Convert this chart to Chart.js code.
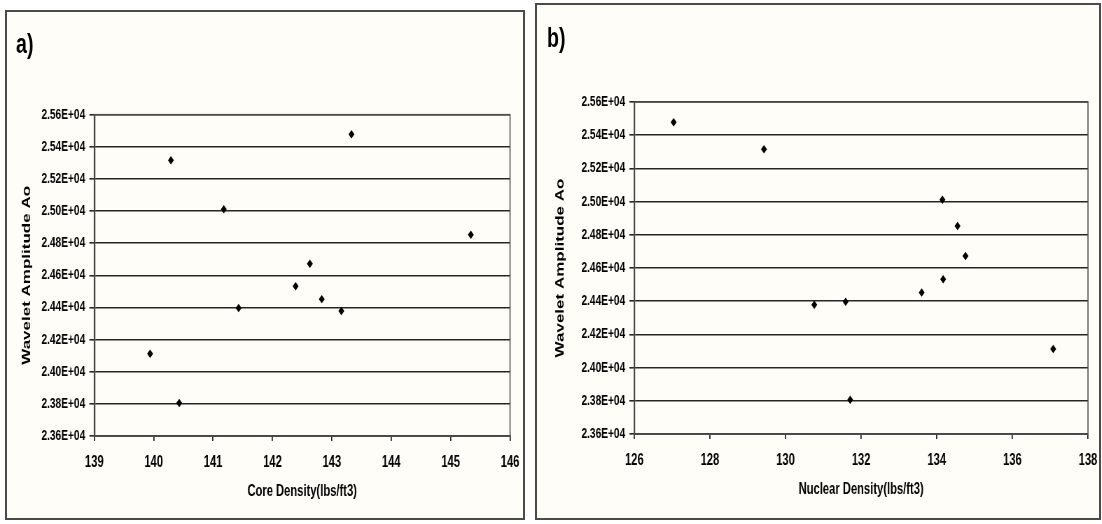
<!DOCTYPE html>
<html>
<head>
<meta charset="utf-8">
<script src="https://cdn.jsdelivr.net/npm/chart.js@4/dist/chart.umd.min.js"></script>
<style>
    body { margin: 0; background: #ffffff; width: 1102px; height: 524px; overflow: hidden; position: relative; }
    .panel { position: absolute; border: 2px solid #4a4a4a; background: #fefdf7; overflow: hidden; }
    /* the source figure is squeezed sideways, so every panel is drawn wide and squeezed */
    .panel canvas { position: absolute; left: 0; top: 0; transform: scaleX(0.7); transform-origin: 0 0; }
    .tag { position: absolute; font: bold 28px 'Liberation Sans', Arial, sans-serif; line-height: 1; color: #000;
           transform: scaleX(0.7); transform-origin: 0 0; }
</style>
</head>
<body>
<div class="panel" style="left:5px; top:10px; width:516px; height:506px;">
    <canvas id="chartA" width="737" height="506"></canvas>
</div>
<div class="panel" style="left:535px; top:3px; width:562px; height:513px;">
    <canvas id="chartB" width="803" height="513"></canvas>
</div>
<div class="tag" style="left:16px; top:30px;">a)</div>
<div class="tag" style="left:547px; top:24px;">b)</div>

<script>
// Wavelet amplitude Ao for each sample (same samples in both panels)
const amplitudeAo = [25478, 25316, 25011, 24853, 24672, 24532, 24452, 24396, 24378, 24112, 23806];
// Core density (lbs/ft3), panel a)
const coreDensity = [143.33, 140.29, 141.18, 145.34, 142.63, 142.39, 142.83, 141.43, 143.16, 139.94, 140.43];
// Nuclear density (lbs/ft3), panel b)
const nuclearDensity = [127.04, 129.43, 134.15, 134.55, 134.76, 134.17, 133.60, 131.59, 130.76, 137.08, 131.71];

// Axis ranges
const ampRange = { min: 23600, max: 25600, step: 200 };
const coreRange = { min: 139, max: 146, step: 1 };
const nuclearRange = { min: 126, max: 138, step: 2 };

const FONT = "'Liberation Sans', Arial, sans-serif";
const INK = '#262626';

// 25600 -> "2.56E+04"
function sciLabel(v) {
    const e = Math.floor(Math.log10(Math.abs(v)));
    const m = v / Math.pow(10, e);
    return m.toFixed(2) + 'E+' + String(e).padStart(2, '0');
}

// outline round the plot area
const framePlugin = {
    id: 'frame',
    beforeDatasetsDraw(chart) {
        const a = chart.chartArea;
        const c = chart.ctx;
        c.save();
        c.strokeStyle = '#505050';
        c.lineWidth = 1.6;
        c.strokeRect(a.left, a.top, a.right - a.left, a.bottom - a.top);
        c.restore();
    }
};

function makeChart(canvasId, xValues, xRange, xTitle, lay) {
    const points = xValues.map((x, i) => ({ x: x, y: amplitudeAo[i] }));
    return new Chart(document.getElementById(canvasId), {
        type: 'scatter',
        data: {
            datasets: [{
                data: points,
                pointStyle: 'rectRot',
                pointRadius: 3.4,
                backgroundColor: '#000',
                borderColor: '#000',
                borderWidth: 1.2
            }]
        },
        options: {
            responsive: false,
            animation: false,
            layout: { padding: { left: 0, top: lay.top, right: lay.right, bottom: 0 } },
            plugins: { legend: { display: false }, tooltip: { enabled: false } },
            scales: {
                x: {
                    type: 'linear',
                    min: xRange.min,
                    max: xRange.max,
                    afterFit: (s) => { s.height = lay.xHeight; s.paddingLeft = 0; s.paddingRight = 0; },
                    ticks: {
                        stepSize: xRange.step,
                        padding: 12,
                        color: '#000',
                        font: { family: FONT, size: 16, weight: 'bold' }
                    },
                    grid: { drawOnChartArea: false, drawTicks: true, tickLength: 5, color: INK, lineWidth: 1.8 },
                    border: { display: true, color: INK, width: 1.8 },
                    title: {
                        display: true,
                        text: xTitle,
                        color: '#000',
                        padding: { top: 0, bottom: lay.xTitlePad },
                        font: { family: FONT, size: 16, weight: 'bold' }
                    }
                },
                y: {
                    min: ampRange.min,
                    max: ampRange.max,
                    afterFit: (s) => { s.width = lay.yWidth; s.paddingTop = 0; s.paddingBottom = 0; },
                    ticks: {
                        stepSize: ampRange.step,
                        padding: 6,
                        color: '#000',
                        font: { family: FONT, size: 14.5, weight: 'bold' },
                        callback: (v) => sciLabel(v)
                    },
                    grid: { color: INK, lineWidth: 1.6, tickLength: 7 },
                    border: { display: true, color: INK, width: 2.2 },
                    title: {
                        display: true,
                        text: 'Wavelet Amplitude Ao',
                        color: '#000',
                        padding: { top: lay.yTitlePad, bottom: 0 },
                        font: { family: FONT, size: 17, weight: 'bold' }
                    }
                }
            }
        },
        plugins: [framePlugin]
    });
}

makeChart('chartA', coreDensity, coreRange, 'Core Density(lbs/ft3)',
    { top: 102.7, right: 18.4, xHeight: 82, yWidth: 124.7, yTitlePad: 18.4, xTitlePad: 16.4 });
makeChart('chartB', nuclearDensity, nuclearRange, 'Nuclear Density(lbs/ft3)',
    { top: 97, right: 15.9, xHeight: 84, yWidth: 139, yTitlePad: 22.7, xTitlePad: 18.4 });
</script>
</body>
</html>
